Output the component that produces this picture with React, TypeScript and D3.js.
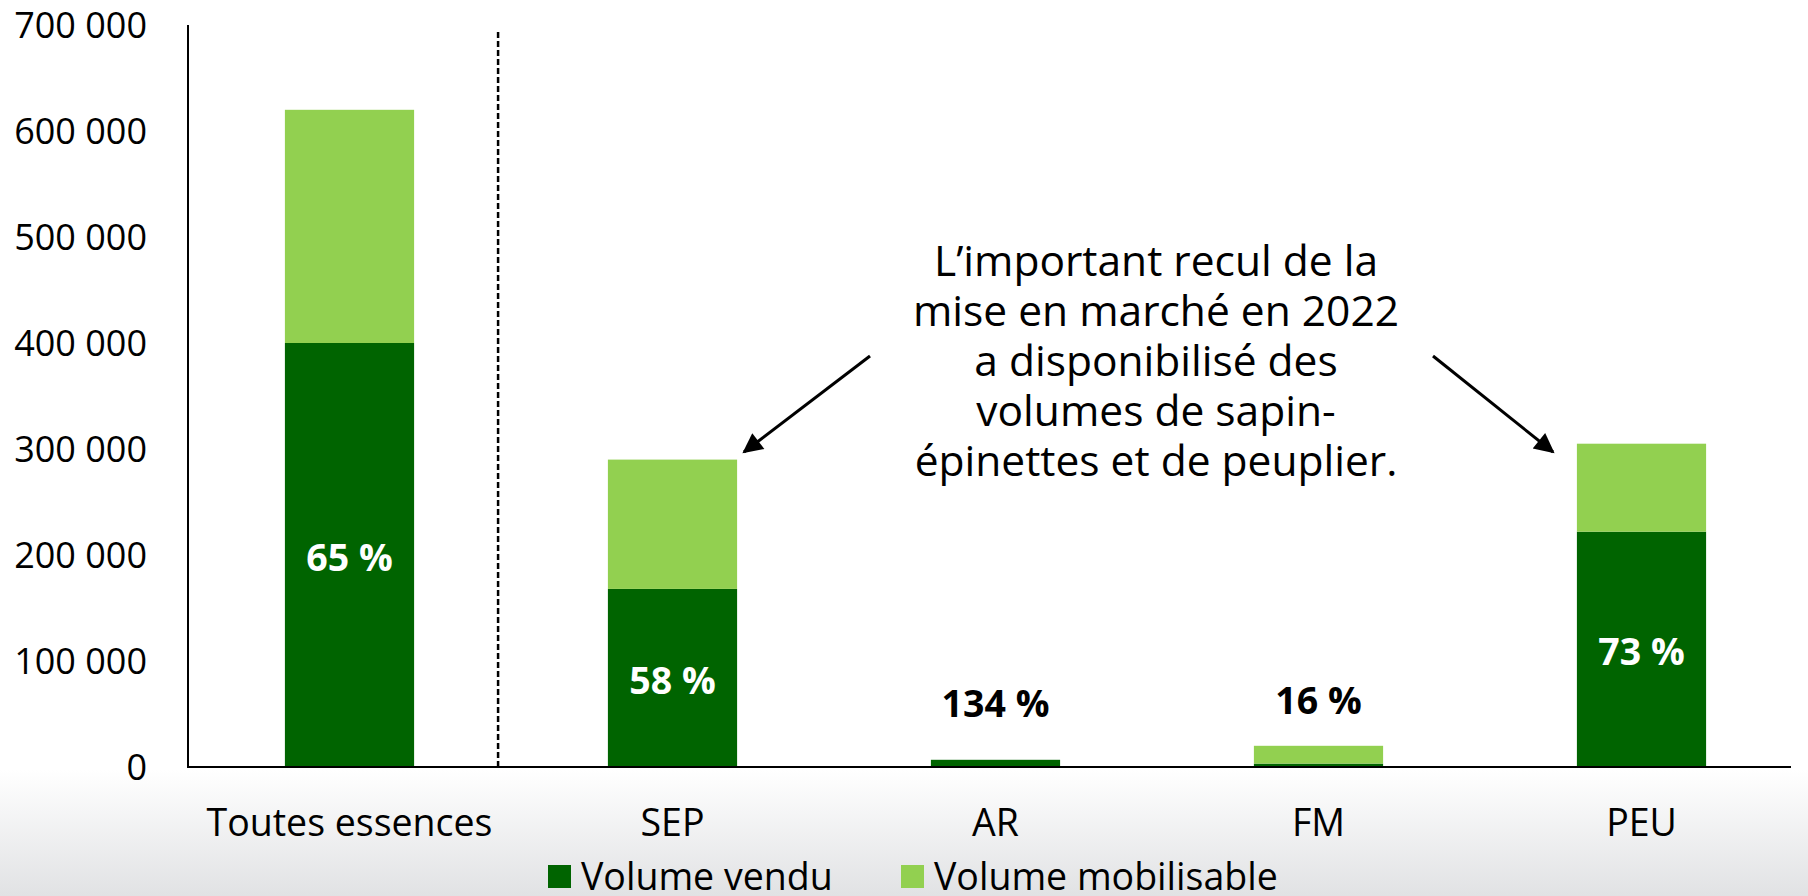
import React from "react";
import * as d3 from "d3";

const categories = ["Toutes essences", "SEP", "AR", "FM", "PEU"];
const volumeVendu = [400000, 168000, 6800, 3200, 222000];
const volumeMobilisable = [620000, 290000, 5100, 20000, 305000];
const percentLabels = ["65 %", "58 %", "134 %", "16 %", "73 %"];
const labelInside = [true, true, false, false, true];
const outsideLabelLevels = [0, 0, 62000, 65000, 0];
const yTicks = [0, 100000, 200000, 300000, 400000, 500000, 600000, 700000];
const seriesNames = ["Volume vendu", "Volume mobilisable"];
const seriesColors = ["#006400", "#92D050"];
const annotationLines = [
  "L\u2019important recul de la",
  "mise en marché en 2022",
  "a disponibilisé des",
  "volumes de sapin-",
  "épinettes et de peuplier.",
];

const W = 1808;
const H = 896;
const FONT = "'Open Sans', 'Noto Sans', sans-serif";

export default function App() {
  const x = d3
    .scaleBand<string>()
    .domain(categories)
    .range([188, 1803])
    .paddingInner(0.6)
    .paddingOuter(0.3);
  const y = d3.scaleLinear().domain([0, 700000]).range([767, 25]);
  const fmt = (v: number) => d3.format(",")(v).replace(/,/g, " ");

  const rows = categories.map((c, i) => ({
    cat: c,
    vendu: volumeVendu[i],
    rest: Math.max(0, volumeMobilisable[i] - volumeVendu[i]),
  }));
  const stack = d3.stack<any>().keys(["vendu", "rest"])(rows);

  const dashX = x(categories[0])! + x.bandwidth() + x.step() * 0.26;

  return (
    <svg
      width={W}
      height={H}
      style={{ position: "fixed", left: 0, top: 0, display: "block" }}
      fontFamily={FONT}
    >
      <defs>
        <linearGradient id="bg" x1="0" y1="0" x2="0" y2="1">
          <stop offset="0" stopColor="#ffffff" />
          <stop offset="1" stopColor="#e1e2e4" />
        </linearGradient>
        <marker
          id="arrow"
          viewBox="0 0 10 10"
          refX="9"
          refY="5"
          markerWidth="22"
          markerHeight="20"
          markerUnits="userSpaceOnUse"
          orient="auto"
        >
          <path d="M0,0 L10,5 L0,10 z" fill="#000" />
        </marker>
      </defs>
      <rect x={0} y={0} width={W} height={H} fill="#fff" />
      <rect x={0} y={770} width={W} height={H - 770} fill="url(#bg)" />

      {/* y tick labels */}
      {yTicks.map((t) => (
        <text
          key={t}
          x={147}
          y={y(t)}
          dy="0.36em"
          textAnchor="end"
          fontSize={36}
          fill="#000"
        >
          {fmt(t)}
        </text>
      ))}

      {/* bars */}
      {stack.map((layer, si) =>
        layer.map((d, i) => (
          <rect
            key={`${si}-${i}`}
            x={x(categories[i])}
            y={y(d[1])}
            width={x.bandwidth()}
            height={Math.max(0, y(d[0]) - y(d[1]))}
            fill={seriesColors[si]}
          />
        ))
      )}

      {/* dashed separator */}
      <line
        x1={dashX}
        x2={dashX}
        y1={32}
        y2={767}
        stroke="#000"
        strokeWidth={2.5}
        strokeDasharray="6,3"
      />

      {/* axes */}
      <line x1={188} x2={188} y1={25} y2={768} stroke="#000" strokeWidth={2} />
      <line x1={187} x2={1791} y1={767} y2={767} stroke="#000" strokeWidth={2} />

      {/* category labels */}
      {categories.map((c) => (
        <text
          key={c}
          x={x(c)! + x.bandwidth() / 2}
          y={822}
          dy="0.36em"
          textAnchor="middle"
          fontSize={37.5}
          fill="#000"
        >
          {c}
        </text>
      ))}

      {/* percent labels */}
      {categories.map((c, i) => {
        const cx = x(c)! + x.bandwidth() / 2;
        const cy = labelInside[i]
          ? (y(0) + y(volumeVendu[i])) / 2
          : y(outsideLabelLevels[i]);
        return (
          <text
            key={"p" + c}
            x={cx}
            y={cy + 2.5}
            dy="0.36em"
            textAnchor="middle"
            fontSize={37.5}
            fontWeight="bold"
            fill={labelInside[i] ? "#fff" : "#000"}
          >
            {percentLabels[i]}
          </text>
        );
      })}

      {/* annotation */}
      {annotationLines.map((l, i) => (
        <text
          key={i}
          x={1156}
          y={261 + i * 50}
          dy="0.36em"
          textAnchor="middle"
          fontSize={42.5}
          fill="#000"
        >
          {l}
        </text>
      ))}
      <line
        x1={870}
        y1={356}
        x2={744}
        y2={452}
        stroke="#000"
        strokeWidth={3}
        markerEnd="url(#arrow)"
      />
      <line
        x1={1433}
        y1={356}
        x2={1553}
        y2={452}
        stroke="#000"
        strokeWidth={3}
        markerEnd="url(#arrow)"
      />

      {/* legend */}
      {seriesNames.map((n, i) => {
        const lx = [548, 901][i];
        return (
          <g key={n}>
            <rect x={lx} y={865} width={23} height={23} fill={seriesColors[i]} />
            <text x={lx + 33} y={876} dy="0.36em" fontSize={37.5} fill="#000">
              {n}
            </text>
          </g>
        );
      })}
    </svg>
  );
}
